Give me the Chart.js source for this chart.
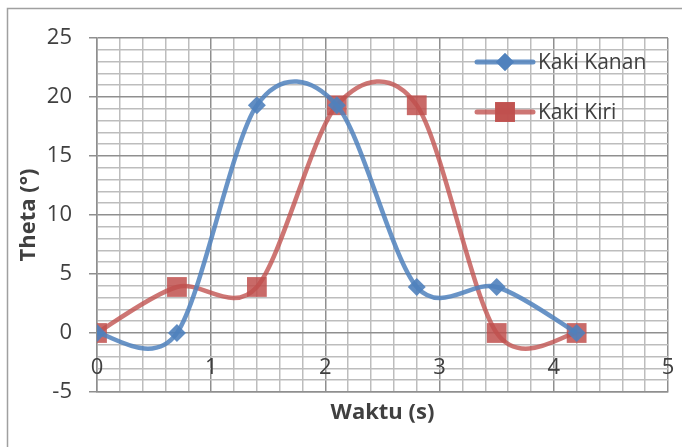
<!DOCTYPE html>
<html>
<head>
<meta charset="utf-8">
<script src="https://cdn.jsdelivr.net/npm/chart.js@4/dist/chart.umd.min.js"></script>
<style>
  html, body { margin: 0; padding: 0; background: #fff; }
  #wrap { position: relative; width: 682px; height: 447px; }
</style>
</head>
<body>
<div id="wrap"><canvas id="c" width="682" height="447"></canvas></div>
<script>
// Time samples (s) and joint angles (degrees) for each leg
const waktu = [0, 0.7, 1.4, 2.1, 2.8, 3.5, 4.2];
const kakiKanan = [0, 0, 19.3, 19.3, 3.9, 3.9, 0];
const kakiKiri = [0, 3.9, 3.9, 19.3, 19.3, 0, 0];

// Labelled tick values
const xTickLabels = [0, 1, 2, 3, 4, 5];
const yTickLabels = [-5, 0, 5, 10, 15, 20, 25];

const seriesNames = ['Kaki Kanan', 'Kaki Kiri'];

const BLUE = 'rgba(79,129,189,0.85)';
const RED = 'rgba(192,80,77,0.78)';
const BLUE_MARK = 'rgba(79,129,189,0.9)';
const RED_MARK = 'rgba(192,80,77,0.85)';
const GRID_MINOR = '#bdbdbd';
const GRID_MAJOR = '#8f8f8f';
const TEXT = '#404040';
const FONT = "'Open Sans', 'DejaVu Sans', sans-serif";
const SMOOTH = 0.155; // Catmull-Rom style smoothing factor

const isWhole = v => Math.abs(v - Math.round(v)) < 1e-6;

function toXY(xs, ys) { return xs.map((x, i) => ({ x: x, y: ys[i] })); }

// White background and outer frame
const framePlugin = {
  id: 'frame',
  beforeDraw(chart) {
    const ctx = chart.ctx;
    ctx.save();
    ctx.fillStyle = '#ffffff';
    ctx.fillRect(0, 0, chart.width, chart.height);
    ctx.strokeStyle = '#a0a0a0';
    ctx.lineWidth = 1.5;
    ctx.beginPath();
    ctx.moveTo(7.5, chart.height);
    ctx.lineTo(7.5, 8.5);
    ctx.lineTo(chart.width, 8.5);
    ctx.stroke();
    ctx.restore();
  }
};

// Spreadsheet-style smoothing: tangents from neighbouring points, evenly weighted
const smoothPlugin = {
  id: 'evenSmooth',
  beforeDatasetDraw(chart, args) {
    const meta = args.meta;
    const line = meta.dataset;
    if (!line) return;
    line.updateControlPoints(chart.chartArea);
    const pts = meta.data;
    const n = pts.length;
    for (let i = 0; i < n; i++) {
      const p = pts[i];
      const prev = pts[Math.max(0, i - 1)];
      const next = pts[Math.min(n - 1, i + 1)];
      const dx = next.x - prev.x, dy = next.y - prev.y;
      p.cp1x = p.x - SMOOTH * dx;
      p.cp1y = p.y - SMOOTH * dy;
      p.cp2x = p.x + SMOOTH * dx;
      p.cp2y = p.y + SMOOTH * dy;
    }
  }
};

// Category labels along the zero line, as the horizontal axis crosses at y = 0
const xLabelPlugin = {
  id: 'xLabels',
  afterDraw(chart) {
    const ctx = chart.ctx;
    const xs = chart.scales.x, ys = chart.scales.y;
    const y0 = ys.getPixelForValue(0);
    ctx.save();
    ctx.font = '22px ' + FONT;
    ctx.fillStyle = TEXT;
    ctx.textAlign = 'center';
    ctx.textBaseline = 'middle';
    xTickLabels.forEach(v => {
      ctx.fillText(String(v), xs.getPixelForValue(v), y0 + 35);
    });
    ctx.restore();
  }
};

// Legend drawn inside the plot, line with marker in its middle
const legendPlugin = {
  id: 'innerLegend',
  afterDatasetsDraw(chart) {
    const ctx = chart.ctx;
    const rows = [
      { y: 62, color: BLUE, mark: BLUE_MARK, style: 'rectRot', r: 9 },
      { y: 112, color: RED, mark: RED_MARK, style: 'rect', r: 14 }
    ];
    ctx.save();
    rows.forEach((row, i) => {
      const x0 = 477, x1 = 533, xm = (x0 + x1) / 2;
      ctx.strokeStyle = row.color;
      ctx.lineWidth = 5;
      ctx.lineCap = 'round';
      ctx.beginPath();
      ctx.moveTo(x0, row.y);
      ctx.lineTo(x1, row.y);
      ctx.stroke();
      ctx.fillStyle = row.mark;
      Chart.helpers.drawPoint(ctx, { pointStyle: row.style, radius: row.r, borderWidth: 0, rotation: 0 }, xm, row.y);
      ctx.fill();
      ctx.fillStyle = TEXT;
      ctx.font = '21px ' + FONT;
      ctx.textAlign = 'left';
      ctx.textBaseline = 'middle';
      ctx.fillText(seriesNames[i], 538, row.y + 1);
    });
    ctx.restore();
  }
};

new Chart(document.getElementById('c'), {
  type: 'line',
  data: {
    datasets: [
      {
        label: seriesNames[0],
        data: toXY(waktu, kakiKanan),
        borderColor: BLUE,
        backgroundColor: BLUE_MARK,
        borderWidth: 4.5,
        tension: 0.4,
        pointStyle: 'rectRot',
        pointRadius: 9,
        pointBorderWidth: 0,
        pointBackgroundColor: BLUE_MARK,
        fill: false
      },
      {
        label: seriesNames[1],
        data: toXY(waktu, kakiKiri),
        borderColor: RED,
        backgroundColor: RED_MARK,
        borderWidth: 4.5,
        tension: 0.4,
        pointStyle: 'rect',
        pointRadius: 14,
        pointBorderWidth: 0,
        pointBackgroundColor: RED_MARK,
        fill: false
      }
    ]
  },
  options: {
    responsive: false,
    animation: false,
    devicePixelRatio: 1,
    layout: { padding: { left: 0, top: 38, right: 14, bottom: 0 } },
    plugins: {
      legend: { display: false },
      tooltip: { enabled: false }
    },
    scales: {
      x: {
        type: 'linear',
        min: 0,
        max: 5,
        afterFit(scale) { scale.height = 55; },
        ticks: { stepSize: 0.2, display: false, autoSkip: false },
        grid: {
          drawTicks: false,
          lineWidth: 1.5,
          color: c => isWhole(c.tick.value) ? GRID_MAJOR : GRID_MINOR
        },
        border: { color: GRID_MAJOR, width: 1.5 },
        title: {
          display: true,
          text: 'Waktu (s)',
          color: TEXT,
          font: { family: FONT, size: 22, weight: 'bold', lineHeight: 1.2 },
          padding: { top: 0, bottom: 21 }
        }
      },
      y: {
        type: 'linear',
        min: -5,
        max: 25,
        afterFit(scale) { scale.width = 97; },
        ticks: {
          stepSize: 1,
          autoSkip: false,
          padding: 17,
          color: TEXT,
          font: { family: FONT, size: 22 },
          callback: v => (yTickLabels.includes(v) ? String(v) : '')
        },
        grid: {
          lineWidth: 1.5,
          tickLength: 8,
          color: c => (c.tick.value % 5 === 0 ? GRID_MAJOR : GRID_MINOR),
          tickColor: c => (c.tick.value % 5 === 0 ? GRID_MAJOR : 'rgba(0,0,0,0)')
        },
        border: { color: GRID_MAJOR, width: 1.5 },
        title: {
          display: true,
          text: 'Theta (°)',
          color: TEXT,
          font: { family: FONT, size: 22, weight: 'bold', lineHeight: 1.2 },
          padding: { top: 16, bottom: 0 }
        }
      }
    }
  },
  plugins: [framePlugin, smoothPlugin, xLabelPlugin, legendPlugin]
});
</script>
</body>
</html>
